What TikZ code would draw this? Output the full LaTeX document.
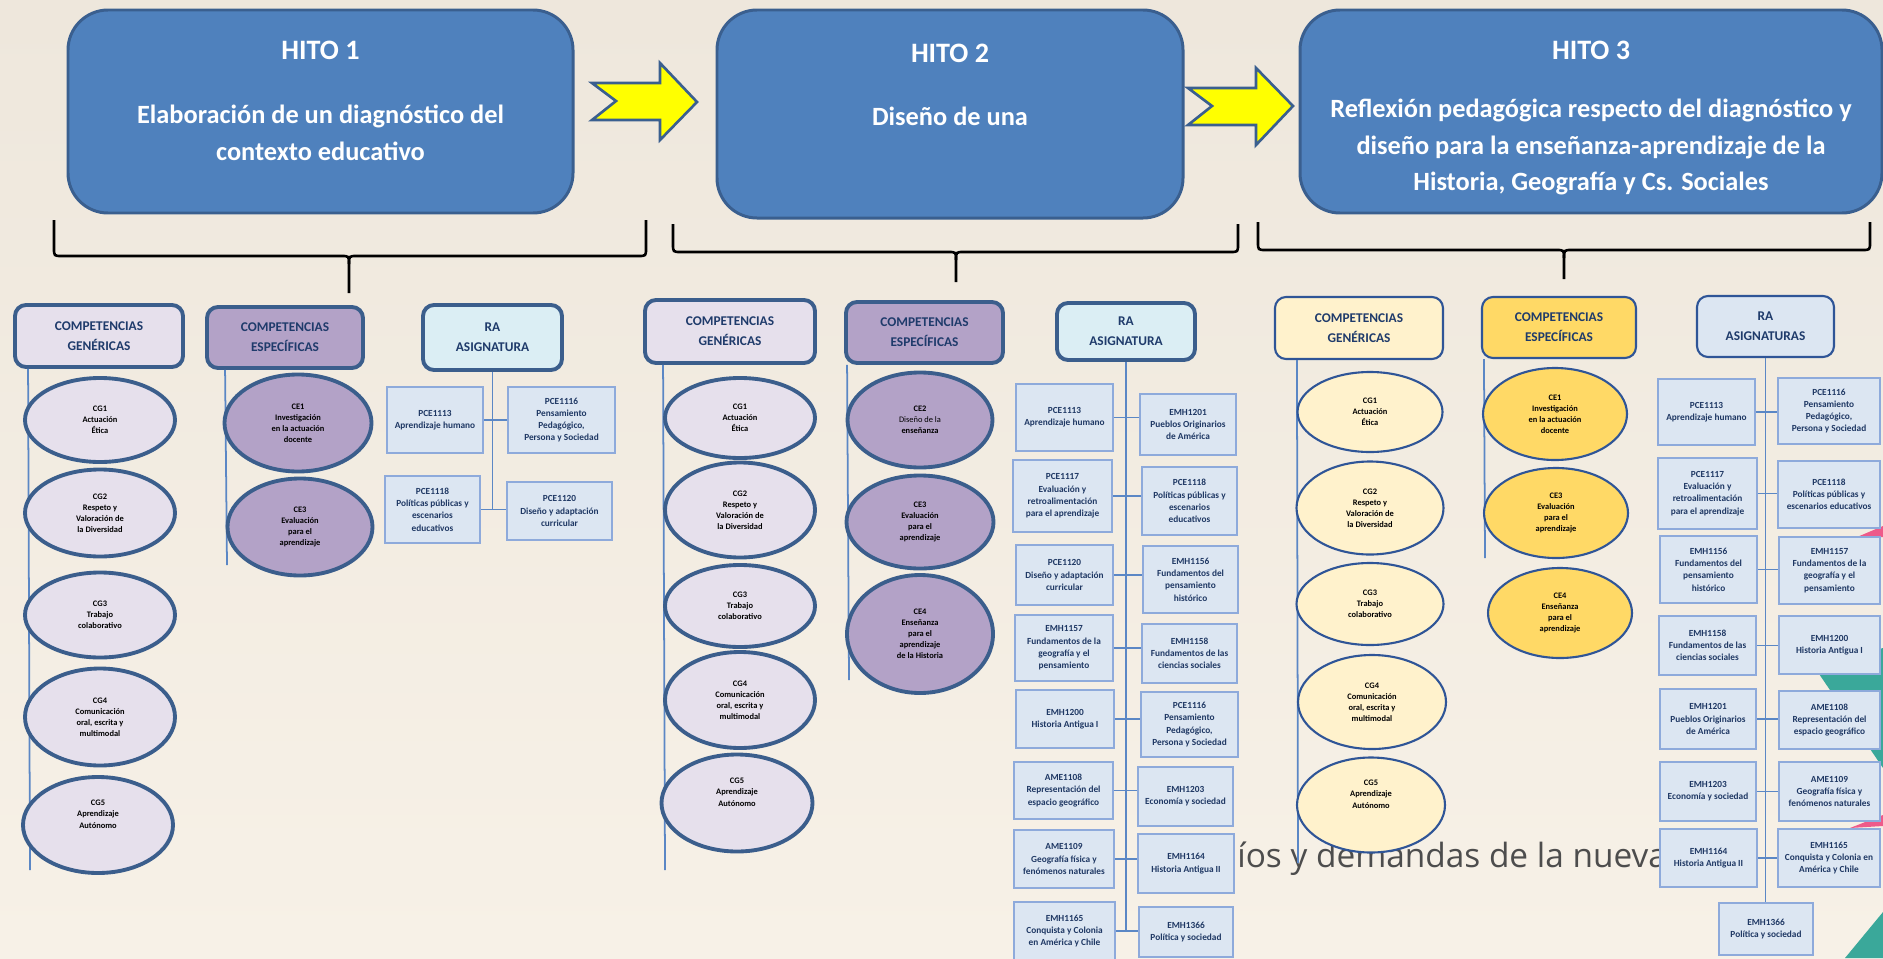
\documentclass[tikz,border=0pt]{standalone}
\usepackage{fontspec}
\setmainfont{Carlito}
\newfontfamily\slidefont{Open Sans}
\usetikzlibrary{shapes.geometric,positioning}

\definecolor{hitoblue}{HTML}{4F81BD}
\definecolor{hitoframe}{HTML}{3A5F8F}
\definecolor{darkframe}{HTML}{3B5E8C}
\definecolor{midframe}{HTML}{2F5597}
\definecolor{headtext}{HTML}{1F3B6B}
\definecolor{lavfill}{HTML}{E6E0EC}
\definecolor{purplefill}{HTML}{B3A2C7}
\definecolor{cyanfill}{HTML}{DBEEF4}
\definecolor{rafill}{HTML}{DCE6F2}
\definecolor{raframe}{HTML}{8EAADB}
\definecolor{ratext}{HTML}{1F3864}
\definecolor{creamfill}{HTML}{FFF2CC}
\definecolor{goldfill}{HTML}{FFD966}
\definecolor{stemblue}{HTML}{5B87C5}
\definecolor{arrowyellow}{HTML}{FFFF00}
\definecolor{bgtop}{HTML}{EEE7DC}
\definecolor{bgbottom}{HTML}{F7F1E7}
\definecolor{slidegray}{HTML}{4D4D4D}
\definecolor{slideteal}{HTML}{3AA89A}
\definecolor{slidepink}{HTML}{EE5A8A}

\newcommand{\hitofont}{\fontsize{15}{21}\selectfont\bfseries}
\newcommand{\hitotitlefont}{\fontsize{16}{21}\selectfont\bfseries}
\newcommand{\headfont}{\fontsize{7.6}{11.3}\selectfont\bfseries}
\newcommand{\compfont}{\fontsize{4.8}{6.3}\selectfont\bfseries}
\newcommand{\rafont}{\fontsize{5.3}{7}\selectfont\bfseries}

\tikzstyle{hitobox}=[draw=hitoframe,fill=hitoblue,line width=1.7pt,rounded corners=8mm]
\tikzstyle{hitotext}=[text=white,font=\hitofont,align=center]
\tikzstyle{hitotitle}=[text=white,font=\hitotitlefont]
\tikzstyle{yellowarrow}=[draw=hitoframe,fill=arrowyellow,line width=1.5pt,line join=miter]
\tikzstyle{bracket}=[draw=black,line width=1.5pt]
\tikzstyle{headbox}=[draw=darkframe,line width=2.2pt,rounded corners=2.2mm,align=center,
  text=headtext,font=\headfont,inner sep=0pt]
\tikzstyle{compell}=[ellipse,draw=darkframe,line width=2.2pt,align=center,font=\compfont,inner sep=0pt]
\tikzstyle{thinframe}=[draw=midframe,line width=1.2pt]
\tikzstyle{rabox}=[draw=raframe,fill=rafill,line width=0.9pt,align=center,text=ratext,
  font=\rafont,inner sep=0pt]
\tikzstyle{stem}=[draw=stemblue,line width=1pt]

\begin{document}
\begin{tikzpicture}[x=0.2mm,y=-0.2mm]
  \clip (0,0) rectangle (1883,958);
  \shade[top color=bgtop,bottom color=bgbottom] (0,0) rectangle (1883,958);
  % slide decoration behind the diagram
  \fill[slideteal] (1815,668) -- (1883,648) -- (1883,768) -- cycle;
  \fill[slideteal] (1845,958) -- (1883,912) -- (1883,958) -- cycle;
  \fill[slidepink] (1850,540) -- (1883,526) -- (1883,537) -- cycle;
  \fill[slidepink] (1850,828) -- (1883,815) -- (1883,826) -- cycle;
  \node[anchor=base west,font=\slidefont\fontsize{19}{22}\selectfont,text=slidegray,inner sep=0pt] (tagline)
    at (1237,867) {íos y demandas de la nueva};

  % hitos
  \node[hitobox,minimum width=101mm,minimum height=40.6mm] (hito1) at (320.5,111.5) {};
  \node[hitotitle] (hito1title) at (320.5,50) {HITO 1};
  \node[hitotext] (hito1body) at (320.5,132.5) {Elaboración de un diagnóstico del\\contexto educativo};

  \node[hitobox,minimum width=93.2mm,minimum height=41.6mm] (hito2) at (950,114) {};
  \node[hitotitle] (hito2title) at (950,53) {HITO 2};
  \node[hitotext] (hito2body) at (950,116) {Diseño de una};

  \node[hitobox,minimum width=116.4mm,minimum height=40.6mm] (hito3) at (1591,111.5) {};
  \node[hitotitle] (hito3title) at (1591,50) {HITO 3};
  \node[hitotext] (hito3body) at (1591,147) {Reflexión pedagógica respecto del diagnóstico y\\diseño para la enseñanza-aprendizaje de la\\Historia, Geografía y Cs. Sociales};

  \draw[yellowarrow] (592,83) -- (660,83) -- (660,63) -- (697,102) -- (660,140) -- (660,120)
    -- (592,120) -- (616,101) -- cycle;
  \draw[yellowarrow] (1188,88) -- (1256,88) -- (1256,68) -- (1293,106) -- (1256,145) -- (1256,125)
    -- (1188,125) -- (1212,106) -- cycle;

  % braces
  \draw[bracket] (54,220) -- (54,248) .. controls (54,256) .. (62,256) -- (341,256)
    .. controls (349,256) .. (349,264) -- (349,293);
  \draw[bracket] (646,220) -- (646,248) .. controls (646,256) .. (638,256) -- (357,256)
    .. controls (349,256) .. (349,264);
  \draw[bracket] (673,224) -- (673,244) .. controls (673,252) .. (681,252) -- (948,252)
    .. controls (956,252) .. (956,260) -- (956,282);
  \draw[bracket] (1238,224) -- (1238,244) .. controls (1238,252) .. (1230,252) -- (964,252)
    .. controls (956,252) .. (956,260);
  \draw[bracket] (1258,222) -- (1258,242) .. controls (1258,250) .. (1266,250) -- (1556,250)
    .. controls (1564,250) .. (1564,258) -- (1564,279);
  \draw[bracket] (1870,222) -- (1870,242) .. controls (1870,250) .. (1862,250) -- (1572,250)
    .. controls (1564,250) .. (1564,258);

  % hito 1 column
  \node[headbox,fill=lavfill,minimum width=33.6mm,minimum height=12.4mm] (g1head) at (99,336) {COMPETENCIAS\\GENÉRICAS};
  \node[headbox,fill=purplefill,minimum width=31.2mm,minimum height=12.2mm] (e1head) at (285,337.5) {COMPETENCIAS\\ESPECÍFICAS};
  \node[headbox,fill=cyanfill,minimum width=27.8mm,minimum height=13mm] (r1head) at (492.5,337.5) {RA\\ASIGNATURA};
  \coordinate (g1end) at (30,870);
  \coordinate (e1end) at (227,565);
  \draw[stem] ([xshift=3mm]g1head.south west) -- (g1end);
  \draw[stem] ([xshift=4mm]e1head.south west) -- (e1end);

  \node[compell,fill=lavfill,minimum width=30mm,minimum height=16.8mm] (g1cg1) at (100,420) {CG1\\Actuación\\Ética};
  \node[compell,fill=lavfill,minimum width=30mm,minimum height=17.4mm] (g1cg2) at (100,513) {CG2\\Respeto y\\Valoración de\\la Diversidad};
  \node[compell,fill=lavfill,minimum width=30mm,minimum height=17mm] (g1cg3) at (100,615) {CG3\\Trabajo\\colaborativo};
  \node[compell,fill=lavfill,minimum width=30mm,minimum height=19.4mm] (g1cg4) at (100,717) {CG4\\Comunicación\\oral, escrita y\\multimodal};
  \node[compell,fill=lavfill,minimum width=30mm,minimum height=19.2mm] (g1cg5) at (98,825) {CG5\\Aprendizaje\\Autónomo\\[6pt]};
  \node[compell,fill=purplefill,minimum width=29.4mm,minimum height=19.4mm] (e1ce1) at (298,423) {CE1\\Investigación\\en la actuación\\docente};
  \node[compell,fill=purplefill,minimum width=29mm,minimum height=19.4mm] (e1ce3) at (300,527) {CE3\\Evaluación\\para el\\aprendizaje};

  \node[rabox,minimum width=19.2mm,minimum height=13.2mm] (r1a) at (435,420) {PCE1113\\Aprendizaje humano};
  \node[rabox,minimum width=21.4mm,minimum height=13.2mm] (r1b) at (561.5,420) {PCE1116\\Pensamiento\\Pedagógico,\\Persona y Sociedad};
  \node[rabox,minimum width=19mm,minimum height=13.4mm] (r1c) at (432.5,509.5) {PCE1118\\Políticas públicas y\\escenarios\\educativos};
  \node[rabox,minimum width=21mm,minimum height=11.6mm] (r1d) at (559.5,511) {PCE1120\\Diseño y adaptación\\curricular};
  \draw[stem] (r1head.south) -- (r1head.south |- r1c.east);
  \draw[stem] (r1a.east) -- (r1a.east -| r1b.west);
  \draw[stem] (r1c.east) -- (r1c.east -| r1d.west);

  % hito 2 column
  \node[headbox,fill=lavfill,minimum width=34mm,minimum height=12.6mm] (g2head) at (730,331.5) {COMPETENCIAS\\GENÉRICAS};
  \node[headbox,fill=purplefill,minimum width=31.4mm,minimum height=12.2mm] (e2head) at (924.5,332.5) {COMPETENCIAS\\ESPECÍFICAS};
  \node[headbox,fill=cyanfill,minimum width=27.6mm,minimum height=11.4mm] (r2head) at (1126,331.5) {RA\\ASIGNATURA};
  \coordinate (g2end) at (665,870);
  \coordinate (e2end) at (849,680);
  \draw[stem] ([xshift=4mm]g2head.south west) -- (g2end);
  \draw[stem] ([xshift=0.6mm]e2head.south west) -- (e2end);

  \node[compell,fill=lavfill,minimum width=30mm,minimum height=16mm] (g2cg1) at (740,418) {CG1\\Actuación\\Ética};
  \node[compell,fill=lavfill,minimum width=30mm,minimum height=19mm] (g2cg2) at (740,510) {CG2\\Respeto y\\Valoración de\\la Diversidad};
  \node[compell,fill=lavfill,minimum width=30mm,minimum height=16.4mm] (g2cg3) at (740,606) {CG3\\Trabajo\\colaborativo};
  \node[compell,fill=lavfill,minimum width=30mm,minimum height=19.2mm] (g2cg4) at (740,700) {CG4\\Comunicación\\oral, escrita y\\multimodal};
  \node[compell,fill=lavfill,minimum width=30.2mm,minimum height=19.4mm] (g2cg5) at (737,803) {CG5\\Aprendizaje\\Autónomo\\[6pt]};
  \node[compell,fill=purplefill,minimum width=29mm,minimum height=19mm] (e2ce2) at (920,420) {CE2\\\mdseries Diseño de la\\enseñanza};
  \node[compell,fill=purplefill,minimum width=29.4mm,minimum height=18.6mm] (e2ce3) at (920,522) {CE3\\Evaluación\\para el\\aprendizaje};
  \node[compell,fill=purplefill,minimum width=29.2mm,minimum height=23.6mm] (e2ce4) at (920,634) {CE4\\Enseñanza\\para el\\aprendizaje\\de la Historia};

  \node[rabox,minimum width=19.4mm,minimum height=13.4mm] (r2a) at (1064.5,417.5) {PCE1113\\Aprendizaje humano};
  \node[rabox,minimum width=19.2mm,minimum height=12.2mm] (r2b) at (1188,424.5) {EMH1201\\Pueblos Originarios\\de América};
  \node[rabox,minimum width=19.8mm,minimum height=14.4mm] (r2c) at (1062.5,496) {PCE1117\\Evaluación y\\retroalimentación\\para el aprendizaje};
  \node[rabox,minimum width=19mm,minimum height=13.6mm] (r2d) at (1189.5,501) {PCE1118\\Políticas públicas y\\escenarios\\educativos};
  \node[rabox,minimum width=19.4mm,minimum height=12mm] (r2e) at (1064.5,575) {PCE1120\\Diseño y adaptación\\curricular};
  \node[rabox,minimum width=19mm,minimum height=13.4mm] (r2f) at (1190.5,579.5) {EMH1156\\Fundamentos del\\pensamiento\\histórico};
  \node[rabox,minimum width=19.6mm,minimum height=13.2mm] (r2g) at (1064,648) {EMH1157\\Fundamentos de la\\geografía y el\\pensamiento};
  \node[rabox,minimum width=19mm,minimum height=11.8mm] (r2h) at (1189.5,653.5) {EMH1158\\Fundamentos de las\\ciencias sociales};
  \node[rabox,minimum width=19.6mm,minimum height=11.6mm] (r2i) at (1065,719) {EMH1200\\Historia Antigua I};
  \node[rabox,minimum width=19.4mm,minimum height=13mm] (r2j) at (1189.5,724.5) {PCE1116\\Pensamiento\\Pedagógico,\\Persona y Sociedad};
  \node[rabox,minimum width=19.8mm,minimum height=11.4mm] (r2k) at (1063.5,790.5) {AME1108\\Representación del\\espacio geográfico};
  \node[rabox,minimum width=19mm,minimum height=11.8mm] (r2l) at (1185.5,796.5) {EMH1203\\Economía y sociedad};
  \node[rabox,minimum width=20mm,minimum height=11.6mm] (r2m) at (1064,859) {AME1109\\Geografía física y\\fenómenos naturales};
  \node[rabox,minimum width=19.2mm,minimum height=11.8mm] (r2n) at (1186,863.5) {EMH1164\\Historia Antigua II};
  \node[rabox,minimum width=20.2mm,minimum height=11.6mm] (r2o) at (1064.5,931) {EMH1165\\Conquista y Colonia\\en América y Chile};
  \node[rabox,minimum width=18.8mm,minimum height=10mm] (r2p) at (1186,932) {EMH1366\\Política y sociedad};
  \draw[stem] (r2head.south) -- (r2head.south |- r2o.east);
  \draw[stem] (r2a.east) -- (r2a.east -| r2b.west);
  \draw[stem] (r2c.east) -- (r2c.east -| r2d.west);
  \draw[stem] (r2e.east) -- (r2e.east -| r2f.west);
  \draw[stem] (r2g.east) -- (r2g.east -| r2h.west);
  \draw[stem] (r2i.east) -- (r2i.east -| r2j.west);
  \draw[stem] (r2k.east) -- (r2k.east -| r2l.west);
  \draw[stem] (r2m.east) -- (r2m.east -| r2n.west);
  \draw[stem] (r2o.east) -- (r2o.east -| r2p.west);

  % hito 3 column
  \node[headbox,thinframe,fill=creamfill,minimum width=33.6mm,minimum height=12.4mm] (g3head) at (1359,328) {COMPETENCIAS\\GENÉRICAS};
  \node[headbox,thinframe,fill=goldfill,minimum width=30.8mm,minimum height=12.2mm] (e3head) at (1559,327.5) {COMPETENCIAS\\ESPECÍFICAS};
  \node[headbox,thinframe,fill=rafill,minimum width=27.4mm,minimum height=12.2mm] (r3head) at (1765.5,326.5) {RA\\ASIGNATURAS};
  \coordinate (g3end) at (1298,863);
  \coordinate (e3end) at (1485,558);
  \draw[stem] ([xshift=4.6mm]g3head.south west) -- (g3end);
  \draw[stem] ([xshift=0.6mm]e3head.south west) -- (e3end);

  \node[compell,thinframe,fill=creamfill,minimum width=29mm,minimum height=16mm] (g3cg1) at (1370,412) {CG1\\Actuación\\Ética};
  \node[compell,thinframe,fill=creamfill,minimum width=29.4mm,minimum height=18.6mm] (g3cg2) at (1370,508) {CG2\\Respeto y\\Valoración de\\la Diversidad};
  \node[compell,thinframe,fill=creamfill,minimum width=29.4mm,minimum height=16.4mm] (g3cg3) at (1370,604) {CG3\\Trabajo\\colaborativo};
  \node[compell,thinframe,fill=creamfill,minimum width=29.6mm,minimum height=18.8mm] (g3cg4) at (1372,702) {CG4\\Comunicación\\oral, escrita y\\multimodal};
  \node[compell,thinframe,fill=creamfill,minimum width=29.6mm,minimum height=19mm] (g3cg5) at (1371,805) {CG5\\Aprendizaje\\Autónomo\\[6pt]};
  \node[compell,thinframe,fill=goldfill,minimum width=28.8mm,minimum height=18.4mm] (e3ce1) at (1555,414) {CE1\\Investigación\\en la actuación\\docente};
  \node[compell,thinframe,fill=goldfill,minimum width=28.8mm,minimum height=18mm] (e3ce3) at (1556,513) {CE3\\Evaluación\\para el\\aprendizaje};
  \node[compell,thinframe,fill=goldfill,minimum width=28.8mm,minimum height=18mm] (e3ce4) at (1560,613) {CE4\\Enseñanza\\para el\\aprendizaje};

  \node[rabox,minimum width=19.4mm,minimum height=13.2mm] (r3a) at (1706.5,412) {PCE1113\\Aprendizaje humano};
  \node[rabox,minimum width=20.4mm,minimum height=13.2mm] (r3b) at (1829,411) {PCE1116\\Pensamiento\\Pedagógico,\\Persona y Sociedad};
  \node[rabox,minimum width=19.8mm,minimum height=14.2mm] (r3c) at (1707.5,493.5) {PCE1117\\Evaluación y\\retroalimentación\\para el aprendizaje};
  \node[rabox,minimum width=20.4mm,minimum height=13.4mm] (r3d) at (1829,494.5) {PCE1118\\Políticas públicas y\\escenarios educativos};
  \node[rabox,minimum width=19.4mm,minimum height=13.4mm] (r3e) at (1708.5,569.5) {EMH1156\\Fundamentos del\\pensamiento\\histórico};
  \node[rabox,minimum width=20.2mm,minimum height=13.4mm] (r3f) at (1829.5,570.5) {EMH1157\\Fundamentos de la\\geografía y el\\pensamiento};
  \node[rabox,minimum width=19.4mm,minimum height=11.8mm] (r3g) at (1707.5,645.5) {EMH1158\\Fundamentos de las\\ciencias sociales};
  \node[rabox,minimum width=20.2mm,minimum height=11.6mm] (r3h) at (1829.5,645) {EMH1200\\Historia Antigua I};
  \node[rabox,minimum width=19.2mm,minimum height=12mm] (r3i) at (1708,719) {EMH1201\\Pueblos Originarios\\de América};
  \node[rabox,minimum width=20.2mm,minimum height=11.6mm] (r3j) at (1829.5,720) {AME1108\\Representación del\\espacio geográfico};
  \node[rabox,minimum width=19.2mm,minimum height=11.8mm] (r3k) at (1708,791.5) {EMH1203\\Economía y sociedad};
  \node[rabox,minimum width=20.2mm,minimum height=11.8mm] (r3l) at (1829.5,791.5) {AME1109\\Geografía física y\\fenómenos naturales};
  \node[rabox,minimum width=19.4mm,minimum height=11.6mm] (r3m) at (1708.5,858) {EMH1164\\Historia Antigua II};
  \node[rabox,minimum width=20.4mm,minimum height=11.6mm] (r3n) at (1829,858) {EMH1165\\Conquista y Colonia en\\América y Chile};
  \node[rabox,minimum width=18.8mm,minimum height=10.4mm] (r3o) at (1766,929) {EMH1366\\Política y sociedad};
  \draw[stem] (r3head.south) -- (r3head.south |- r3o.north);
  \draw[stem] (r3a.east) -- (r3a.east -| r3b.west);
  \draw[stem] (r3c.east) -- (r3c.east -| r3d.west);
  \draw[stem] (r3e.east) -- (r3e.east -| r3f.west);
  \draw[stem] (r3g.east) -- (r3g.east -| r3h.west);
  \draw[stem] (r3i.east) -- (r3i.east -| r3j.west);
  \draw[stem] (r3k.east) -- (r3k.east -| r3l.west);
  \draw[stem] (r3m.east) -- (r3m.east -| r3n.west);
\end{tikzpicture}
\end{document}
